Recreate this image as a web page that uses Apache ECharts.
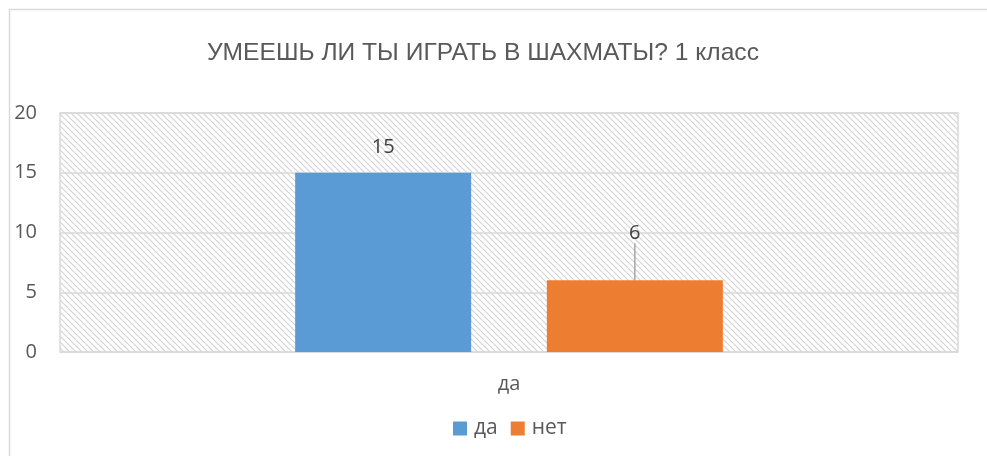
<!DOCTYPE html>
<html><head><meta charset="utf-8">
<script src="https://cdn.jsdelivr.net/npm/echarts@6/dist/echarts.min.js"></script>
<style>html,body{margin:0;padding:0;background:#fff}#c{width:987px;height:456px}</style>
</head><body><div id="c"></div>
<script>
var categories = ['да'];
var seriesNames = ['да', 'нет'];
var valuesDa = [15];
var valuesNet = [6];
var yTicks = [0, 5, 10, 15, 20];

var pc = document.createElement('canvas');
pc.width = 6; pc.height = 6;
var g = pc.getContext('2d');
g.fillStyle = '#fff'; g.fillRect(0,0,6,6);
g.strokeStyle = '#d4d4d4'; g.lineWidth = 1.2;
g.beginPath();
g.moveTo(-1,-1); g.lineTo(7,7);
g.moveTo(-1,5); g.lineTo(1,7);
g.moveTo(5,-1); g.lineTo(7,1);
g.stroke();

var tf = 'Open Sans, sans-serif';
var chart = echarts.init(document.getElementById('c'));
chart.setOption({
  animation: false,
  title: {
    text: 'УМЕЕШЬ ЛИ ТЫ ИГРАТЬ В ШАХМАТЫ? 1 класс',
    left: 202, top: 36,
    textStyle: {fontFamily: 'Liberation Sans, sans-serif', fontSize: 24.6, fontWeight: 'normal', color: '#595959'}
  },
  graphic: [{type: 'rect', shape: {x: 9.5, y: 9.5, width: 1100, height: 600}, style: {fill: 'none', stroke: '#d9d9d9', lineWidth: 1.5}, z: -10}],
  grid: {left: 60, right: 29, top: 113, bottom: 104, show: true,
    backgroundColor: {image: pc, repeat: 'repeat'}, borderColor: '#d9d9d9', borderWidth: 1.5},
  legend: {
    top: 413, left: 448, itemWidth: 14, itemHeight: 14, icon: 'rect', itemGap: 13,
    textStyle: {fontFamily: tf, fontSize: 21, color: '#595959', padding: [0,0,0,2]},
    data: seriesNames
  },
  xAxis: {type: 'category', data: categories,
    axisLine: {show: false}, axisTick: {show: false},
    axisLabel: {fontFamily: tf, fontSize: 20, color: '#595959', margin: 22}},
  yAxis: {type: 'value', min: 0, max: 20, interval: 5,
    axisLine: {show: false}, axisTick: {show: false},
    splitLine: {lineStyle: {color: '#d9d9d9', width: 1.5}},
    axisLabel: {fontFamily: tf, fontSize: 20, color: '#595959', margin: 23,
      formatter: function(v){ return yTicks.indexOf(v) >= 0 ? String(v) : ''; }}},
  series: [
    {name: seriesNames[0], type: 'bar', data: valuesDa, barWidth: 176, barGap: '43%',
     itemStyle: {color: '#5B9BD5'},
     label: {show: true, position: 'top', distance: 15, fontFamily: tf, fontSize: 20, color: '#404040'}},
    {name: seriesNames[1], type: 'bar', data: valuesNet, barWidth: 176,
     itemStyle: {color: '#ED7D31'},
     label: {show: true, position: 'top', distance: 15, fontFamily: tf, fontSize: 20, color: '#404040'},
     labelLayout: {dy: -22},
     labelLine: {show: true, lineStyle: {color: '#a6a6a6', width: 1.5}}}
  ]
});
</script></body></html>
